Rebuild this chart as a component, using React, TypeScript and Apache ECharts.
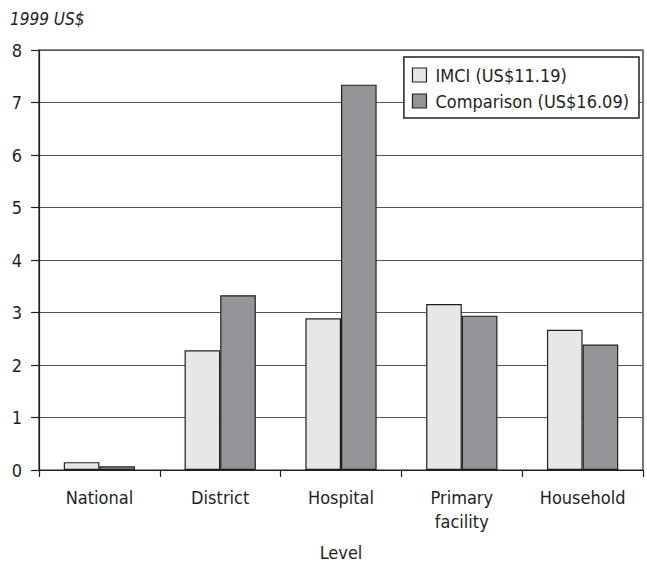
import React, { useEffect, useRef } from "react";
import * as echarts from "echarts";

const categories = ["National", "District", "Hospital", "Primary\nfacility", "Household"];
const imciValues = [0.15, 2.28, 2.89, 3.16, 2.67];
const comparisonValues = [0.07, 3.33, 7.34, 2.94, 2.39];
const seriesNames = ["IMCI (US$11.19)", "Comparison (US$16.09)"];
const yTicks = { min: 0, max: 8, interval: 1 };

const FONT = "'DejaVu Sans Condensed', 'Liberation Sans Narrow', sans-serif";
const INK = "#231f20";

export default function App() {
  const ref = useRef<HTMLDivElement>(null);
  useEffect(() => {
    if (!ref.current) return;
    const chart = echarts.init(ref.current, undefined, { renderer: "svg" });
    chart.setOption({
      animation: false,
      backgroundColor: "#ffffff",
      textStyle: { fontFamily: FONT, color: INK },
      title: {
        text: "1999 US$",
        left: 10,
        top: 10,
        padding: 0,
        textStyle: { fontFamily: FONT, fontStyle: "italic", fontWeight: "normal", fontSize: 17, color: INK },
      },
      legend: {
        right: 8,
        top: 57,
        orient: "vertical",
        icon: "rect",
        itemWidth: 14,
        itemHeight: 14,
        itemGap: 8,
        padding: [9, 10, 8, 8],
        backgroundColor: "#ffffff",
        borderColor: INK,
        borderWidth: 1.5,
        textStyle: { fontFamily: FONT, fontSize: 18, color: INK, padding: [0, 0, 0, 4] },
        data: seriesNames.map((n) => ({ name: n, itemStyle: { borderColor: INK, borderWidth: 1.2 } })),
      },
      grid: {
        left: 39,
        right: 4,
        top: 50,
        bottom: 92,
        show: true,
        borderColor: INK,
        borderWidth: 1.2,
        backgroundColor: "transparent",
      },
      xAxis: {
        type: "category",
        data: categories,
        name: "Level",
        nameLocation: "middle",
        nameGap: 73,
        nameTextStyle: { fontFamily: FONT, fontSize: 18, color: INK },
        axisLine: { lineStyle: { color: INK, width: 1.2 } },
        axisTick: { show: true, length: 7, lineStyle: { color: INK, width: 1.2 } },
        axisLabel: { fontFamily: FONT, fontSize: 18, color: INK, margin: 15, lineHeight: 24 },
      },
      yAxis: {
        type: "value",
        min: yTicks.min,
        max: yTicks.max,
        interval: yTicks.interval,
        axisLine: { show: true, lineStyle: { color: INK, width: 1.2 } },
        axisTick: { show: true, length: 8, lineStyle: { color: INK, width: 1.2 } },
        axisLabel: { fontFamily: FONT, fontSize: 18, color: INK, margin: 17 },
        splitLine: { show: true, lineStyle: { color: "#555555", width: 1 } },
      },
      series: [
        {
          name: seriesNames[0],
          type: "bar",
          data: imciValues,
          barGap: "0%",
          barCategoryGap: "41%",
          itemStyle: { color: "#e6e7e9", borderColor: INK, borderWidth: 1.2 },
        },
        {
          name: seriesNames[1],
          type: "bar",
          data: comparisonValues,
          barGap: "0%",
          barCategoryGap: "41%",
          itemStyle: { color: "#939598", borderColor: INK, borderWidth: 1.2 },
        },
      ],
    });
    return () => chart.dispose();
  }, []);
  return <div ref={ref} style={{ position: "fixed", left: 0, top: 0, width: 647, height: 566 }} />;
}
